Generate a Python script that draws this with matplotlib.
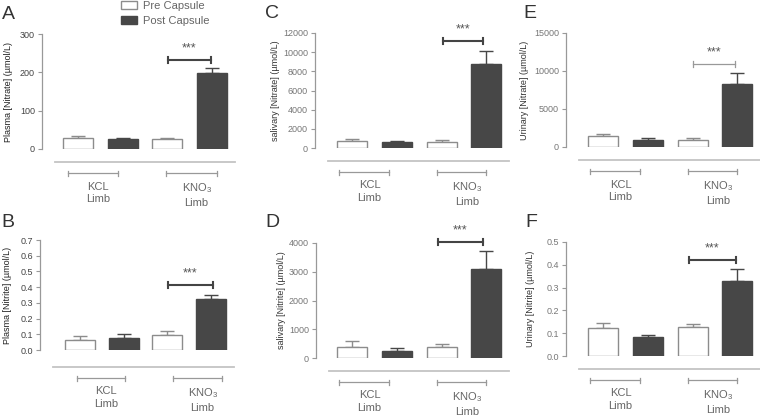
import matplotlib.pyplot as plt
from matplotlib.patches import Patch
from matplotlib.ticker import FormatStrFormatter

plt.rcParams['font.family'] = ['Liberation Sans', 'DejaVu Sans']
plt.rcParams['mathtext.default'] = 'regular'

W, H = 760, 416

# data: bars ordered pre KCL, post KCL, pre KNO3, post KNO3
legend_labels = ['Pre Capsule', 'Post Capsule']
group_labels = ['KCL\nLimb', 'KNO$_3$\nLimb']
bar_is_post = [False, True, False, True]

plasma_nitrate = [28, 25, 25, 197]
plasma_nitrate_err = [5, 5, 4, 15]
plasma_nitrite = [0.065, 0.077, 0.095, 0.323]
plasma_nitrite_err = [0.025, 0.028, 0.025, 0.028]
saliva_nitrate = [720, 580, 650, 8800]
saliva_nitrate_err = [200, 170, 180, 1330]
saliva_nitrite = [380, 260, 380, 3080]
saliva_nitrite_err = [200, 90, 110, 650]
urine_nitrate = [1450, 980, 970, 8300]
urine_nitrate_err = [270, 230, 170, 1450]
urine_nitrite = [0.121, 0.082, 0.126, 0.331]
urine_nitrite_err = [0.022, 0.011, 0.016, 0.05]

ylabels = ['Plasma [Nitrate] (\u00b5mol/L)', 'Plasma [Nitrite] (\u00b5mol/L)',
           'salivary [Nitrate] (\u00b5mol/L)', 'salivary [Nitrite] (\u00b5mol/L)',
           'Urinary [Nitrate] (\u00b5mol/L)', 'Urinary [Nitrite] (\u00b5mol/L)']
yticks = [[0, 100, 200, 300], [0, 0.1, 0.2, 0.3, 0.4, 0.5, 0.6, 0.7],
          [0, 2000, 4000, 6000, 8000, 10000, 12000], [0, 1000, 2000, 3000, 4000],
          [0, 5000, 10000, 15000], [0, 0.1, 0.2, 0.3, 0.4, 0.5]]
sig_level = [233, 0.415, 11120, 4035, 10960, 0.42]

PRE_EDGE = '#8c8c8c'
POST = '#474747'

# layout in pixels: axis x, first bar centre, bar spacing, top tick y, zero y
layout = [
    dict(letter='A', left=42, c0=78, sp=44.7, top=34, zero=149, lab_x=13, off=13,
         grp=[(-0.22, 0.89), (1.97, 3.1)], sig_x=(2.01, 2.98), lx=(2, 6), dark=True),
    dict(letter='B', left=40, c0=80, sp=43.5, top=240, zero=350, lab_x=12, off=17,
         grp=[(-0.07, 1.03), (2.14, 3.26)], sig_x=(2.02, 3.06), lx=(1, 214), dark=True),
    dict(letter='C', left=315, c0=352, sp=44.8, top=33, zero=148, lab_x=280, off=13,
         grp=[(-0.29, 0.83), (1.9, 3.0)], sig_x=(2.03, 2.92), lx=(265, 5), dark=True),
    dict(letter='D', left=316, c0=352, sp=44.8, top=243, zero=358, lab_x=286, off=13,
         grp=[(-0.29, 0.83), (1.9, 3.0)], sig_x=(1.92, 2.92), lx=(265, 214), dark=True),
    dict(letter='E', left=566, c0=603, sp=44.8, top=33, zero=147, lab_x=529, off=13,
         grp=[(-0.29, 0.83), (1.9, 3.0)], sig_x=(2.0, 2.94), lx=(523, 5), dark=False),
    dict(letter='F', left=566, c0=603, sp=44.8, top=242, zero=356, lab_x=535, off=13,
         grp=[(-0.29, 0.83), (1.9, 3.0)], sig_x=(1.92, 2.97), lx=(525, 214), dark=True),
]

values = [plasma_nitrate, plasma_nitrite, saliva_nitrate, saliva_nitrite, urine_nitrate, urine_nitrite]
errors = [plasma_nitrate_err, plasma_nitrite_err, saliva_nitrate_err, saliva_nitrite_err,
          urine_nitrate_err, urine_nitrite_err]

fig = plt.figure(figsize=(W / 100, H / 100), dpi=100)

for i, L in enumerate(layout):
    right = L['c0'] + 3 * L['sp'] + 23
    w_px = right - L['left']
    h_px = L['zero'] - L['top']
    ax = fig.add_axes([L['left'] / W, 1 - L['zero'] / H, w_px / W, h_px / H])
    xl = (L['left'] - L['c0']) / L['sp']
    xr = (right - L['c0']) / L['sp']
    bw = 30 / L['sp']
    ymax = yticks[i][-1]
    vals, errs = values[i], errors[i]
    x = list(range(4))
    tick_col = '#444444' if i < 2 else '#777777'
    lab_col = '#222222' if i < 2 else '#333333'

    for j in x:
        post = bar_is_post[j]
        ax.bar(j, vals[j], bw, color=POST if post else 'white',
               edgecolor=POST if post else PRE_EDGE, linewidth=1, zorder=3)
        ax.errorbar(j, vals[j], yerr=[[0], [errs[j]]], fmt='none',
                    ecolor=POST if post else PRE_EDGE, elinewidth=1, capsize=5,
                    capthick=1, zorder=2)

    ax.set_xlim(xl, xr)
    ax.set_ylim(0, ymax)
    ax.set_yticks(yticks[i])
    if i in (1, 5):
        ax.yaxis.set_major_formatter(FormatStrFormatter('%.1f'))
    ax.tick_params(axis='y', length=3, width=0.8, color='#999999', labelsize=6.5,
                   labelcolor=tick_col, pad=2)
    ax.tick_params(axis='x', length=0, labelbottom=False)
    for s in ['top', 'right']:
        ax.spines[s].set_visible(False)
    ax.spines['left'].set_color('#999999')
    ax.spines['left'].set_linewidth(0.9)
    ax.spines['bottom'].set_position(('outward', L['off'] * 0.72))
    ax.spines['bottom'].set_bounds(xl + 13 / L['sp'], xr)
    ax.spines['bottom'].set_color('#c4c4c4')
    ax.spines['bottom'].set_linewidth(1.3)
    ax.patch.set_visible(False)

    ax.set_ylabel(ylabels[i], fontsize=6.5, color=lab_col)
    ax.yaxis.set_label_coords((L['lab_x'] - L['left']) / w_px, 0.5)

    # group brackets and labels under the baseline
    tr = ax.get_xaxis_transform()
    gy = -(L['off'] + 11) / h_px
    tk = 2.5 / h_px
    for (a, b), lab in zip(L['grp'], group_labels):
        ax.plot([a, b], [gy, gy], color='#999999', lw=0.9, transform=tr, clip_on=False)
        for e in (a, b):
            ax.plot([e, e], [gy - tk, gy + tk], color='#999999', lw=0.9, transform=tr, clip_on=False)
        ax.text((a + b) / 2 + 0.12, gy - 8.5 / h_px, lab, transform=tr, ha='center', va='top',
                fontsize=8, color='#666666', linespacing=1.35)

    # significance bracket
    sa, sb = L['sig_x']
    sc = '#444444' if L['dark'] else '#999999'
    slw = 1.5 if L['dark'] else 0.9
    sy = sig_level[i]
    d = 3 / h_px * ymax
    ax.plot([sa, sb], [sy, sy], color=sc, lw=slw, clip_on=False)
    for e in (sa, sb):
        ax.plot([e, e], [sy - d, sy + d], color=sc, lw=slw, clip_on=False)
    ax.annotate('***', xy=((sa + sb) / 2, sy), xytext=(0, 4), textcoords='offset points',
                ha='center', va='bottom', fontsize=9, color='#555555', annotation_clip=False)

    fig.text(L['lx'][0] / W, 1 - L['lx'][1] / H, L['letter'], fontsize=14, color='#333333',
             ha='left', va='top')

handles = [Patch(facecolor='white', edgecolor=PRE_EDGE, linewidth=1),
           Patch(facecolor=POST, edgecolor=POST, linewidth=1)]
fig.legend(handles, legend_labels, loc='upper left', bbox_to_anchor=(120 / W, 1.0),
           frameon=False, fontsize=8, handlelength=1.4, handleheight=0.75,
           handletextpad=0.6, labelspacing=0.45, borderpad=0.1, borderaxespad=0,
           labelcolor='#666666')

fig.savefig('out.png', dpi=100)
